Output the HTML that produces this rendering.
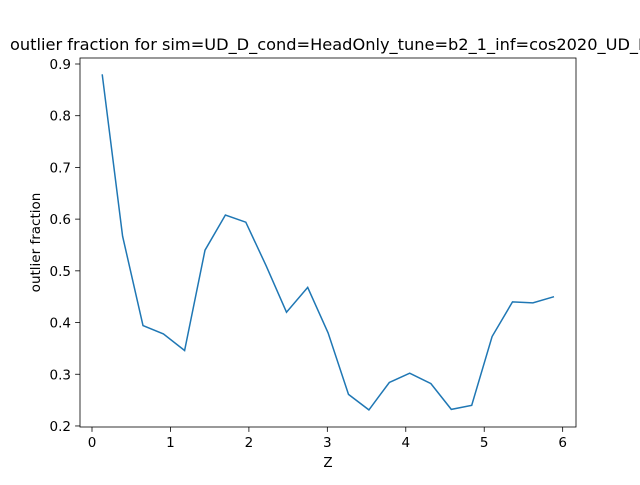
<!DOCTYPE html>
<html><head><meta charset="utf-8"><style>
body{margin:0;background:#fff}
svg text{font-family:"DejaVu Sans","Liberation Sans",sans-serif;fill:#000}
</style></head><body>
<svg id="chart" width="640" height="480" xmlns="http://www.w3.org/2000/svg">
<rect width="640" height="480" fill="#fff"/>
<text x="10" y="50" font-size="16.2">outlier fraction for sim=UD_D_cond=HeadOnly_tune=b2_1_inf=cos2020_UD_D</text>
<g id="axes"></g>
</svg>
<script>
const zValues=[0.13,0.39,0.65,0.91,1.18,1.44,1.70,1.96,2.22,2.48,2.75,3.01,3.27,3.53,3.79,4.05,4.32,4.58,4.84,5.10,5.36,5.62,5.89];
const fractions=[0.88,0.567,0.394,0.378,0.346,0.54,0.608,0.594,0.51,0.42,0.468,0.38,0.261,0.231,0.284,0.302,0.282,0.232,0.24,0.373,0.44,0.438,0.45];
const xTicks=[0,1,2,3,4,5,6];
const yTicks=[0.2,0.3,0.4,0.5,0.6,0.7,0.8,0.9];
const L=80,R=576,T=58,B=427;
const xmin=-0.153,xmax=6.17,ymin=0.198,ymax=0.9116;
const sx=v=>L+(v-xmin)/(xmax-xmin)*(R-L);
const sy=v=>B-(v-ymin)/(ymax-ymin)*(B-T);
const NS="http://www.w3.org/2000/svg";
const g=document.getElementById('axes');
function mk(tag,attrs){const e=document.createElementNS(NS,tag);for(const k in attrs)e.setAttribute(k,attrs[k]);g.appendChild(e);return e;}
const d=zValues.map((x,i)=>(i?'L':'M')+sx(x).toFixed(1)+','+sy(fractions[i]).toFixed(1)).join(' ');
const line=mk('path',{d:d,fill:'none',stroke:'#1f77b4','stroke-width':1.5});


const frame=mk('rect',{x:L,y:T,width:R-L,height:B-T,fill:'none',stroke:'#000','stroke-width':0.8});


xTicks.forEach(t=>{const x=sx(t);
const tk=mk('line',{x1:x,x2:x,y1:B,y2:B+4.9,stroke:'#000','stroke-width':0.8});


const tx=mk('text',{x:x,y:B+20,'text-anchor':'middle','font-size':13.5});tx.textContent=t;

});
yTicks.forEach(t=>{const y=sy(t);
const tk=mk('line',{x1:L-4.9,x2:L,y1:y,y2:y,stroke:'#000','stroke-width':0.8});


const tx=mk('text',{x:L-9,y:y+5,'text-anchor':'end','font-size':13.5});tx.textContent=t.toFixed(1);

});
const xl=mk('text',{x:(L+R)/2,y:467,'text-anchor':'middle','font-size':13.5});xl.textContent='Z';


const yl=mk('text',{x:0,y:0,'text-anchor':'middle','font-size':13.5,transform:'translate(40,'+((T+B)/2)+') rotate(-90)'});yl.textContent='outlier fraction';


</script>
</body></html>
